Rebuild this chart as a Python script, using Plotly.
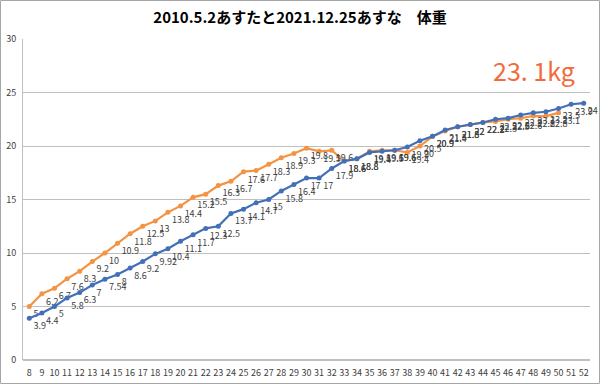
import plotly.graph_objects as go

weeks = [str(w) for w in range(8, 53)]

asuta = [5, 6.2, 6.7, 7.6, 8.3, 9.2, 10, 10.9, 11.8, 12.5, 13, 13.8, 14.4, 15.2, 15.5,
         16.3, 16.7, 17.6, 17.7, 18.3, 18.9, 19.3, 19.8, 19.5, 19.6, 18.6, 18.8, 19.5,
         19.6, 19.6, 19.4, 20, 20.9, 21.4, 21.8, 22, 22.2, 22.3, 22.5, 22.6, 22.8, 22.8,
         23.1]
asuna = [3.9, 4.4, 5, 5.8, 6.3, 7, 7.54, 8, 8.6, 9.2, 9.92, 10.4, 11.1, 11.7, 12.3,
         12.5, 13.7, 14.1, 14.7, 15, 15.8, 16.4, 17, 17, 17.9, 18.6, 18.8, 19.4, 19.5,
         19.6, 19.9, 20.5, 20.9, 21.5, 21.8, 22, 22.2, 22.5, 22.6, 22.9, 23.1, 23.2,
         23.5, 23.9, 24]
y_ticks = [0, 5, 10, 15, 20, 25, 30]

title = "2010.5.2あすたと2021.12.25あすな　体重"
note = "23. 1kg"

FONT = "Noto Sans CJK JP, DejaVu Sans, sans-serif"
W, H = 600, 384
L, R, T, B = 23, 10, 39, 24
pw, ph = W - L - R, H - T - B

fig = go.Figure()
fig.add_trace(go.Scatter(
    x=weeks[:len(asuta)], y=asuta, mode="lines+markers+text",
    text=[str(v) for v in asuta], textposition="bottom right",
    textfont=dict(size=9, color="#404040", family=FONT),
    line=dict(color="#F39343", width=2.2),
    marker=dict(size=5, color="#F39343"), cliponaxis=False, showlegend=False))
fig.add_trace(go.Scatter(
    x=weeks[:len(asuna)], y=asuna, mode="lines+markers+text",
    text=[str(v) for v in asuna], textposition="bottom right",
    textfont=dict(size=9, color="#404040", family=FONT),
    line=dict(color="#4270B8", width=2.2),
    marker=dict(size=5, color="#4270B8"), cliponaxis=False, showlegend=False))

fig.update_layout(
    width=W, height=H,
    margin=dict(l=L, r=R, t=T, b=B, autoexpand=False),
    paper_bgcolor="white", plot_bgcolor="white",
    font=dict(family=FONT, color="#404040"),
    title=dict(text="<b>" + title + "</b>", x=0.5, xanchor="center",
               y=1 - 18 / H, yanchor="middle",
               font=dict(size=15, color="#000000", family=FONT)),
    xaxis=dict(type="category", categoryorder="array", categoryarray=weeks,
               range=[-0.5, len(weeks) - 0.5], showgrid=False, automargin=False,
               showline=False, ticks="", tickfont=dict(size=9, color="#404040"),
               tickangle=0, ticklabelstandoff=6),
    yaxis=dict(range=[0, 30], tickvals=y_ticks, showgrid=True, automargin=False,
               gridcolor="#BFBFBF", gridwidth=1, zeroline=True,
               zerolinecolor="#BFBFBF", showline=True, linecolor="#BFBFBF",
               ticks="", tickfont=dict(size=9, color="#404040"), ticklabelstandoff=4),
    annotations=[dict(text=note, x=(534 - L) / pw, y=27.1, xref="paper",
                      yref="y", xanchor="center", yanchor="middle", showarrow=False,
                      font=dict(size=25, color="#F26B3A", family=FONT))],
    shapes=[dict(type="rect", xref="paper", yref="paper",
                 x0=-L / pw + 0.5 / pw, x1=1 + R / pw - 0.5 / pw,
                 y0=-B / ph + 0.5 / ph, y1=1 + T / ph - 0.5 / ph,
                 line=dict(color="#A6A6A6", width=1))],
)
fig.write_html("out.html", config={"displayModeBar": False},
               post_script="document.body.style.margin='0';document.body.style.padding='0';")
